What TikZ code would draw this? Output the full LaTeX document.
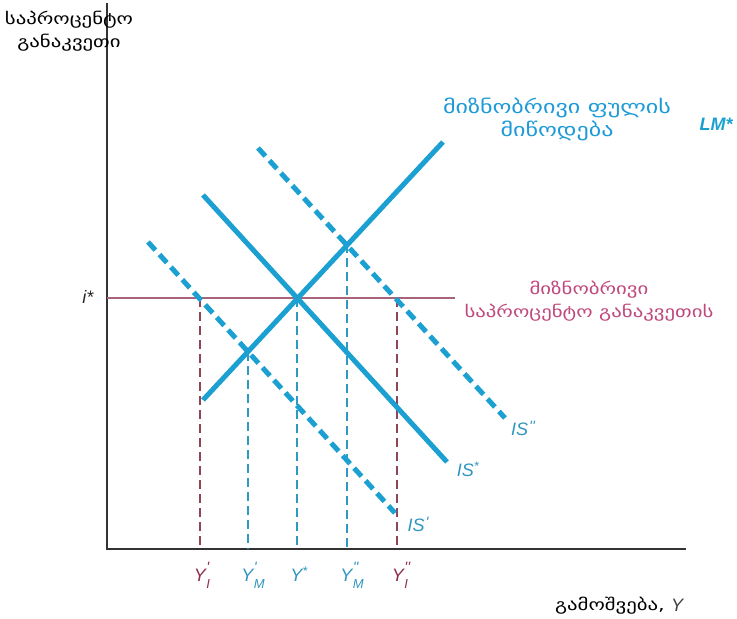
\documentclass[tikz,border=0pt]{standalone}
\usepackage{fontspec}
\setmainfont{DejaVu Sans}
\newfontfamily\lat{Liberation Sans}
\newfontfamily\geof[FakeStretch=1.3]{DejaVu Sans}
\definecolor{cblue}{HTML}{1CA0D2}
\definecolor{lblue}{HTML}{2F95BE}
\definecolor{gblue}{HTML}{1E9BD7}
\definecolor{pinkline}{HTML}{A86478}
\definecolor{pinktext}{HTML}{C0487C}
\definecolor{dred}{HTML}{8E4556}
\definecolor{dredtext}{HTML}{8B2E4A}
\definecolor{axisgray}{HTML}{333333}
\newcommand\ylab[2]{Y\kern0.5pt\begin{tabular}[c]{@{}l@{}}\fontsize{15}{9}\selectfont#1\\[-2pt]\fontsize{13}{10}\selectfont#2\end{tabular}}
\newcommand\supr[1]{\raisebox{4pt}{\fontsize{15}{15}\selectfont#1}}
\begin{document}
\begin{tikzpicture}[x=1pt,y=-1pt,
  axis/.style={draw=axisgray,line width=1.4pt},
  curve/.style={draw=cblue,line width=5pt,line cap=butt},
  dcurve/.style={curve,dash pattern=on 11pt off 6pt},
  vred/.style={draw=dred,line width=1.2pt,dash pattern=on 9pt off 5pt},
  vblue/.style={draw=cblue!80!gray,line width=1.1pt,dash pattern=on 9pt off 5pt},
  geo/.style={font=\geof\fontsize{16}{23}\selectfont,align=center,inner sep=0pt},
  lab/.style={font=\lat\itshape\fontsize{18}{18}\selectfont,inner sep=0pt}]
\useasboundingbox (0,0) rectangle (737,619);
% axes
\coordinate (O) at (107,549);
\coordinate (ytop) at (107,3);
\coordinate (xend) at (686,549);
\draw[axis] (ytop) -- (O) -- (xend);
% target interest rate line
\coordinate (istart) at (107,298);
\coordinate (iend) at (455,298);
\draw[draw=pinkline,line width=2pt] (istart) -- (iend);
% curves
\coordinate (lm1) at (203,400); \coordinate (lm2) at (443,142);
\coordinate (is1) at (203,195); \coordinate (is2) at (447,462);
\coordinate (isa1) at (148,242); \coordinate (isa2) at (395,513);
\coordinate (isb1) at (258,148); \coordinate (isb2) at (505,418);
% vertical guides
\coordinate (p1) at (200,298); \coordinate (b1) at (200,549);
\coordinate (p2) at (248,352); \coordinate (b2) at (248,549);
\coordinate (p3) at (297,298); \coordinate (b3) at (297,549);
\coordinate (p4) at (347,244); \coordinate (b4) at (347,549);
\coordinate (p5) at (397,298); \coordinate (b5) at (397,549);
\draw[vred] (p1) -- (b1);
\draw[vblue] (p2) -- (b2);
\draw[vblue] (p3) -- (b3);
\draw[vblue] (p4) -- (b4);
\draw[vred] (p5) -- (b5);
\draw[dcurve] (isa1) -- (isa2);
\draw[dcurve] (isb1) -- (isb2);
\draw[curve] (lm1) -- (lm2);
\draw[curve] (is1) -- (is2);
% labels
\node[geo,text=black] (ytitle) at (69,31) {საპროცენტო\\განაკვეთი};
\node[lab,text=black!85] (istar) at (88,297) {i*};
\node[geo,text=gblue,font=\geof\fontsize{18.5}{23}\selectfont] (msupply) at (557,119) {მიზნობრივი ფულის\\მიწოდება};
\node[lab,text=cblue,font=\lat\bfseries\itshape\fontsize{18}{18}\selectfont] (lmlab) at (716,124) {LM*};
\node[geo,text=pinktext] (mrate) at (589,301) {მიზნობრივი\\საპროცენტო განაკვეთის};
\node[lab,text=lblue] (isbl) at (523,428) {IS\kern1pt\supr{''}};
\node[lab,text=lblue] (isl) at (468,469) {IS\textsuperscript{*}};
\node[lab,text=lblue] (isal) at (418,524) {IS\kern1pt\supr{'}};
\node[lab,text=dredtext] (y1) at (202,577) {\ylab{'}{I}};
\node[lab,text=lblue] (y2) at (253,577) {\ylab{'}{M}};
\node[lab,text=lblue] (y3) at (299,574) {Y\textsuperscript{*}};
\node[lab,text=lblue] (y4) at (352,577) {\ylab{''}{M}};
\node[lab,text=dredtext] (y5) at (401,577) {\ylab{''}{I}};
\node[geo,text=black,anchor=east] (xtitle) at (665,606) {გამოშვება,};
\node[lab,text=black!75] (ylabx) at (677,605) {Y};
\end{tikzpicture}
\end{document}
